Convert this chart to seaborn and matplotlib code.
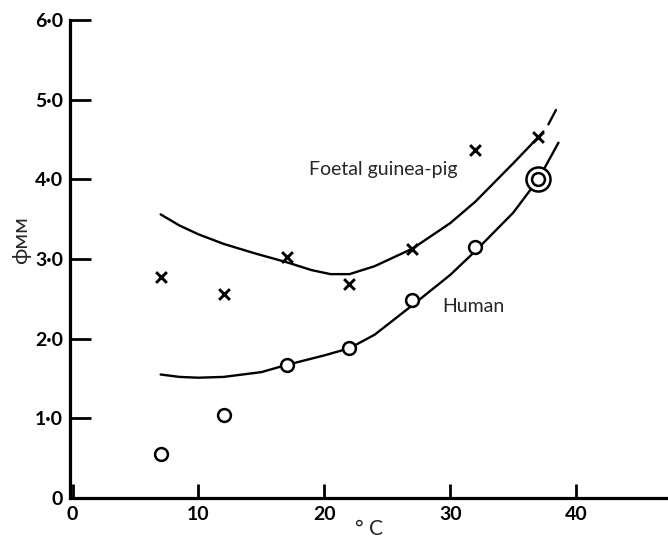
import matplotlib
matplotlib.use("Agg")
import matplotlib.pyplot as plt
import seaborn as sns
import pandas as pd

# ---- data ----
temps = [7, 12, 17, 22, 27, 32, 37]
guinea_pig = [2.78, 2.56, 3.03, 2.68, 3.13, 4.37, 4.53]
human = [0.55, 1.04, 1.67, 1.88, 2.49, 3.15, 4.01]

# hand-drawn fitted curves
gp_curve_x = [7, 8.5, 10, 12, 14.5, 17, 19, 20.5, 22, 24, 27, 30, 32, 35, 37, 37.4]
gp_curve_y = [3.56, 3.42, 3.31, 3.19, 3.07, 2.96, 2.86, 2.81, 2.81, 2.91, 3.13, 3.45, 3.72, 4.20, 4.53, 4.60]
gp_tail_x = [37.8, 38.4]
gp_tail_y = [4.69, 4.87]

hu_curve_x = [7, 8.5, 10, 12, 15, 17, 20, 22, 24, 27, 30, 32, 35, 37, 38.6]
hu_curve_y = [1.55, 1.52, 1.51, 1.52, 1.58, 1.67, 1.79, 1.88, 2.05, 2.42, 2.80, 3.10, 3.58, 4.00, 4.46]

xticks = [0, 10, 20, 30, 40]
xtick_labels = ["0", "10", "20", "30", "40"]
yticks = [0, 1, 2, 3, 4, 5, 6]
ytick_labels = ["0", "1·0", "2·0", "3·0", "4·0", "5·0", "6·0"]

sns.set_style("ticks")
plt.rcParams["font.family"] = ["Lato", "DejaVu Sans"]

fig = plt.figure(figsize=(6.68, 5.38), dpi=100)
ax = fig.add_axes([70 / 668, 40 / 538, 598 / 668, 478 / 538])

curves = pd.DataFrame({
    "x": gp_curve_x + gp_tail_x + hu_curve_x,
    "y": gp_curve_y + gp_tail_y + hu_curve_y,
    "seg": ["gp"] * len(gp_curve_x) + ["gpt"] * len(gp_tail_x) + ["hu"] * len(hu_curve_x),
})
sns.lineplot(data=curves, x="x", y="y", units="seg", estimator=None, sort=False,
             color="black", linewidth=1.7, ax=ax, zorder=2)

sns.scatterplot(x=temps, y=guinea_pig, marker="x", s=60, color="black",
                linewidth=2.1, ax=ax, zorder=3)
sns.scatterplot(x=temps, y=human, marker="o", s=85, facecolor="white",
                edgecolor="black", linewidth=1.8, ax=ax, zorder=3)
# outer ring of the double circle at the last human point
sns.scatterplot(x=[temps[-1]], y=[human[-1]], marker="o", s=300, facecolor="white",
                edgecolor="black", linewidth=1.8, ax=ax, zorder=2.5)

ax.set_xlim(-0.2, 47.3)
ax.set_ylim(0, 6)
ax.set_xticks(xticks, labels=xtick_labels)
ax.set_yticks(yticks, labels=ytick_labels)
ax.tick_params(axis="both", direction="in", width=2, colors="black",
               labelsize=14, labelcolor="black")
ax.tick_params(axis="y", length=15, pad=5)
ax.tick_params(axis="x", length=10, pad=6)
for lab in ax.get_xticklabels() + ax.get_yticklabels():
    lab.set_fontweight("bold")

sns.despine(ax=ax)
for sp in ["left", "bottom"]:
    ax.spines[sp].set_linewidth(2.3)
    ax.spines[sp].set_color("black")

ax.set_xlabel("° C", fontsize=15, labelpad=-3)
ax.set_ylabel("ϕᴍᴍ", fontsize=16)
ax.yaxis.set_label_coords(-0.065, 0.54)

ax.annotate("Foetal guinea-pig", xy=(309 / 668, 1 - 169 / 538), xycoords="figure fraction",
            fontsize=14, ha="left", va="center")
ax.annotate("Human", xy=(442 / 668, 1 - 306 / 538), xycoords="figure fraction",
            fontsize=14, ha="left", va="center")

fig.savefig("out.png", dpi=100)
